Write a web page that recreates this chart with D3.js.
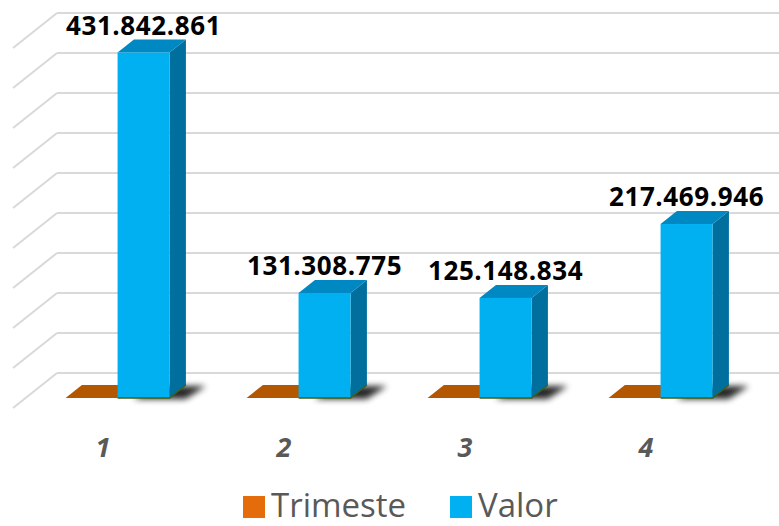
<!DOCTYPE html>
<html>
<head>
<meta charset="utf-8">
<script src="https://cdn.jsdelivr.net/npm/d3@7/dist/d3.min.js"></script>
<style>
  html, body { margin: 0; padding: 0; background: #ffffff; }
  svg { display: block; }
</style>
</head>
<body>
<script>
// ---- data ----
const categories = ["1", "2", "3", "4"];
const trimeste = [1, 2, 3, 4];
const valor = [431842861, 131308775, 125148834, 217469946];
const seriesNames = ["Trimeste", "Valor"];
const gridTicks = [0, 50e6, 100e6, 150e6, 200e6, 250e6, 300e6, 350e6, 400e6, 450e6];

// ---- setup ----
const W = 779, H = 526;
const svg = d3.select("body").append("svg").attr("width", W).attr("height", H);

const defs = svg.append("defs");
const blur = defs.append("filter").attr("id", "shadowBlur")
  .attr("x", "-50%").attr("y", "-50%").attr("width", "200%").attr("height", "200%");
blur.append("feGaussianBlur").attr("stdDeviation", 3);

// back-wall value scale
const y = d3.scaleLinear().domain([0, 450e6]).range([373, 13]);
// category position on back-wall plane (boundary between the two series)
const x = d3.scalePoint().domain(categories).range([149, 692]);

const depthX = 44, depthY = 35;     // full floor depth offset
const zFront = 25 / 35, zBack = 12 / 35; // bar depth positions
const barW = 52;
const wallLeft = 57;

function proj(px, v, z) {
  return [px - depthX * z, y(v) + depthY * z];
}
function poly(pts) { return pts.map(p => p.join(",")).join(" "); }

const grid = svg.append("g");
// back wall gridlines
grid.selectAll("line.back").data(gridTicks).enter().append("line")
  .attr("x1", wallLeft).attr("x2", W)
  .attr("y1", d => y(d)).attr("y2", d => y(d))
  .attr("stroke", "#D9D9D9").attr("stroke-width", 2);
// side wall gridlines
grid.selectAll("line.side").data(gridTicks).enter().append("line")
  .attr("x1", d => proj(wallLeft, d, 0)[0]).attr("y1", d => proj(wallLeft, d, 0)[1])
  .attr("x2", d => proj(wallLeft, d, 1)[0]).attr("y2", d => proj(wallLeft, d, 1)[1])
  .attr("stroke", "#D9D9D9").attr("stroke-width", 2);

function drawBar(g, x0, x1, v, cols) {
  const fbl = proj(x0, 0, zFront), fbr = proj(x1, 0, zFront);
  const ftl = proj(x0, v, zFront), ftr = proj(x1, v, zFront);
  const btl = proj(x0, v, zBack), btr = proj(x1, v, zBack);
  const bbr = proj(x1, 0, zBack);
  // side
  g.append("polygon").attr("points", poly([fbr, ftr, btr, bbr])).attr("fill", cols.side);
  // top
  g.append("polygon").attr("points", poly([ftl, ftr, btr, btl])).attr("fill", cols.top);
  // front
  if (fbl[1] - ftl[1] > 0.5)
    g.append("rect").attr("x", ftl[0]).attr("y", ftl[1])
      .attr("width", ftr[0] - ftl[0]).attr("height", fbl[1] - ftl[1]).attr("fill", cols.front);
  return { fbl, fbr, bbr, btl, btr, ftl, ftr };
}

const fmt = d3.formatLocale({ decimal: ",", thousands: ".", grouping: [3], currency: ["", ""] }).format(",d");

const bars = svg.append("g");
categories.forEach((c, i) => {
  const cx = x(c);
  const g = bars.append("g");
  // Trimeste (orange, tiny values -> flat)
  drawBar(g, cx - barW, cx, trimeste[i], { side: "#8a4200", top: "#B35700", front: "#E46C0A" });
  // shadow of the blue bar
  const s0 = proj(cx + 4, 0, zFront), s1 = proj(cx + barW + 4, 0, zFront);
  const s2 = proj(cx + barW + 4, 0, zBack), s3 = proj(cx + 4, 0, zBack);
  g.append("polygon")
    .attr("points", poly([[s0[0] + 12, s0[1] + 1], [s1[0] + 12, s1[1] + 1], [s2[0] + 16, s2[1] + 1], [s3[0] + 16, s3[1] + 1]]))
    .attr("fill", "#000").attr("opacity", 0.85).attr("filter", "url(#shadowBlur)");
  // Valor (blue)
  const b = drawBar(g, cx, cx + barW, valor[i], { side: "#006F9E", top: "#0088C2", front: "#00B0F0" });
  // green bottom edge
  g.append("polyline").attr("points", poly([b.fbl, b.fbr, b.bbr]))
    .attr("fill", "none").attr("stroke", "#3F5F1A").attr("stroke-width", 1.5);
  // value label
  svg.append("text")
    .attr("x", (b.ftl[0] + b.ftr[0]) / 2)
    .attr("y", b.btl[1] - 5)
    .attr("text-anchor", "middle")
    .attr("font-family", "'Open Sans', sans-serif")
    .attr("font-weight", "bold")
    .attr("font-size", 26)
    .attr("letter-spacing", 0.6)
    .attr("fill", "#000")
    .text(fmt(valor[i]));
  // category label
  svg.append("text")
    .attr("x", proj(cx, 0, 1)[0] - 2)
    .attr("y", 457)
    .attr("text-anchor", "middle")
    .attr("font-family", "'Open Sans', sans-serif")
    .attr("font-weight", "bold")
    .attr("font-style", "italic")
    .attr("font-size", 27)
    .attr("fill", "#595959")
    .text(c);
});

// legend
const legendColors = ["#E46C0A", "#00B0F0"];
const legendX = [243, 450];
const lg = svg.append("g");
seriesNames.forEach((n, i) => {
  lg.append("rect").attr("x", legendX[i]).attr("y", 496).attr("width", 22).attr("height", 22)
    .attr("fill", legendColors[i]);
  lg.append("text").attr("x", legendX[i] + 28).attr("y", 517)
    .attr("font-family", "'Open Sans', sans-serif")
    .attr("font-size", 33)
    .attr("fill", "#595959")
    .text(n);
});
</script>
</body>
</html>
